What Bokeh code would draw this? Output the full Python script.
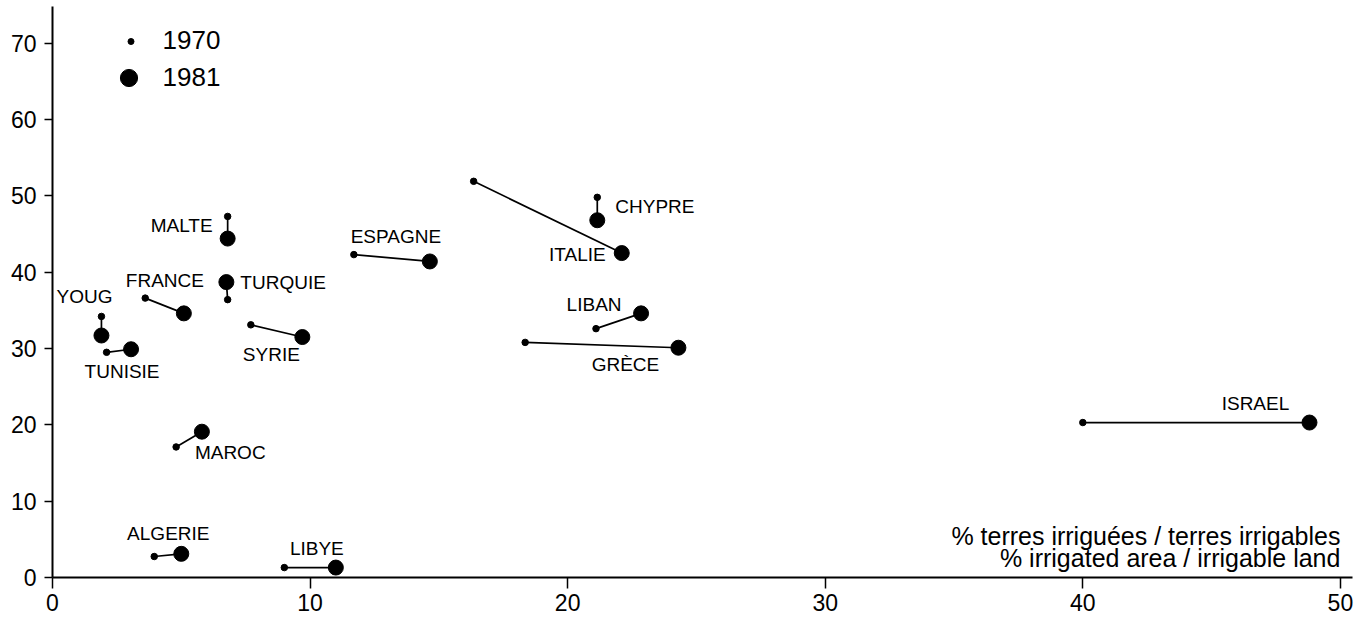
from bokeh.plotting import figure
from bokeh.models import Range1d, FixedTicker, Legend, LegendItem, Label, ColumnDataSource
from bokeh.embed import file_html
from bokeh.resources import INLINE
from bokeh.core.properties import value

# ---------------- data ----------------
countries = ["MALTE", "TURQUIE", "YOUG", "TUNISIE", "FRANCE", "SYRIE", "MAROC",
             "ALGERIE", "LIBYE", "ESPAGNE", "ITALIE", "CHYPRE", "LIBAN", "GRÈCE", "ISRAEL"]
x_1970 = [6.8, 6.8, 1.9, 2.1, 3.6, 7.7, 4.8, 3.95, 9.0, 11.7, 16.35, 21.15, 21.1, 18.35, 40.0]
y_1970 = [47.3, 36.4, 34.2, 29.5, 36.6, 33.1, 17.1, 2.75, 1.3, 42.3, 51.9, 49.8, 32.6, 30.8, 20.3]
x_1981 = [6.8, 6.75, 1.9, 3.05, 5.1, 9.7, 5.8, 5.0, 11.0, 14.65, 22.1, 21.15, 22.85, 24.3, 48.8]
y_1981 = [44.4, 38.7, 31.7, 29.9, 34.6, 31.5, 19.1, 3.1, 1.3, 41.4, 42.5, 46.8, 34.6, 30.1, 20.3]
years = ["1970", "1981"]
x_ticks = [0, 10, 20, 30, 40, 50]
y_ticks = [0, 10, 20, 30, 40, 50, 60, 70]
axis_note = ["% terres irriguées / terres irrigables", "% irrigated area / irrigable land"]

# label placement (px offsets from the 1981 point) -- styling only
label_dx = [-15, 14, -17, -9, -19, -31, -7, -13, -19, -34, -16, 18, -47, -53, -54]
label_dy = [-13, 0, -39, 22, -33, 17, 21, -20, -19, -25, 1, -14, -9, 17, -19]
label_align = ["right", "left", "center", "center", "center", "center", "left", "center",
               "center", "center", "right", "left", "center", "center", "center"]

FONT = "Liberation Sans"

p = figure(width=1361, height=621, x_range=Range1d(0, 50.47), y_range=Range1d(0, 74.8),
           output_backend="svg", toolbar_location=None,
           min_border_left=52, min_border_right=9, min_border_top=6, min_border_bottom=44)
p.outline_line_color = None
p.xgrid.visible = False
p.ygrid.visible = False
p.background_fill_color = "white"
p.border_fill_color = "white"

for ax, ticks in ((p.xaxis, x_ticks), (p.yaxis, y_ticks)):
    ax.ticker = FixedTicker(ticks=ticks)
    ax.minor_tick_line_color = None
    ax.major_tick_in = 0
    ax.axis_line_width = 2
    ax.axis_line_color = "black"
    ax.major_tick_line_width = 1.5
    ax.major_tick_line_color = "black"
    ax.major_label_text_font = FONT
    ax.major_label_text_font_size = "23px"
    ax.major_label_text_color = "black"
p.xaxis.major_tick_out = 11
p.xaxis.major_label_standoff = 5
p.yaxis.major_tick_out = 8
p.yaxis.major_label_standoff = 8

src = ColumnDataSource(dict(x0=x_1970, y0=y_1970, x1=x_1981, y1=y_1981, name=countries,
                            dx=label_dx, dy=label_dy))

p.segment(x0="x0", y0="y0", x1="x1", y1="y1", source=src, line_color="black", line_width=1.7)
r70 = p.scatter(x="x0", y="y0", source=src, size=6.5, fill_color="black", line_color="black")
r81 = p.scatter(x="x1", y="y1", source=src, size=15, fill_color="black", line_color="black")

for al in ("left", "center", "right"):
    idx = [i for i, a in enumerate(label_align) if a == al]
    s = ColumnDataSource(dict(x=[x_1981[i] for i in idx], y=[y_1981[i] for i in idx],
                              t=[countries[i] for i in idx],
                              dx=[label_dx[i] for i in idx], dy=[label_dy[i] for i in idx]))
    p.text(x="x", y="y", text="t", x_offset="dx", y_offset="dy", source=s,
           text_align=al, text_baseline="middle", text_font=value(FONT),
           text_font_size="19px", text_color="black")

# legends (separate so the two marker sizes differ)
leg1 = Legend(items=[LegendItem(label=years[0], renderers=[r70])], location=(70.5, 521),
              glyph_width=15, glyph_height=30, label_height=30, label_standoff=25, padding=0,
              margin=0, border_line_color=None, background_fill_alpha=0,
              label_text_font=FONT, label_text_font_size="26px", label_text_color="black")
leg2 = Legend(items=[LegendItem(label=years[1], renderers=[r81])], location=(54.5, 478.5),
              glyph_width=43, glyph_height=43, label_height=43, label_standoff=13, padding=0,
              margin=0, border_line_color=None, background_fill_alpha=0,
              label_text_font=FONT, label_text_font_size="26px", label_text_color="black")
p.add_layout(leg1)
p.add_layout(leg2)

for txt, yy in zip(axis_note, (5.5, 2.6)):
    p.add_layout(Label(x=x_ticks[-1], y=yy, text=txt, text_align="right",
                       text_baseline="alphabetic", text_font=FONT, text_font_size="25px",
                       text_color="black"))

open("out.html", "w").write(file_html(p, INLINE))
